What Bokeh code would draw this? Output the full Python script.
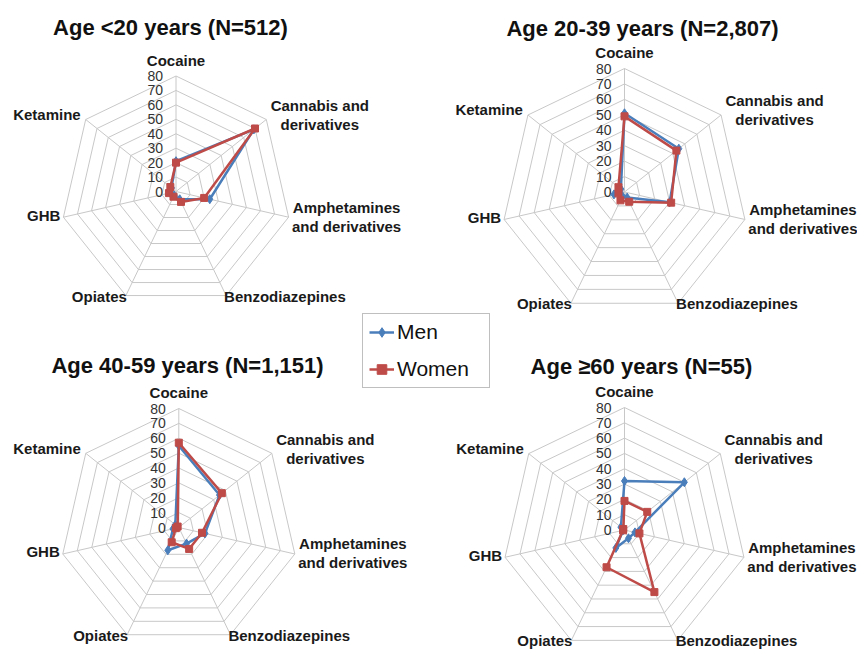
import numpy as np
from bokeh.plotting import figure
from bokeh.models import Range1d, Legend, LegendItem
from bokeh.embed import file_html
from bokeh.resources import INLINE
from bokeh.core.properties import value

# ---------------- data ----------------
drugs = ["Cocaine", "Cannabis and derivatives", "Amphetamines and derivatives",
         "Benzodiazepines", "Opiates", "GHB", "Ketamine"]
drug_label_lines = [["Cocaine"], ["Cannabis and", "derivatives"],
                    ["Amphetamines", "and derivatives"], ["Benzodiazepines"],
                    ["Opiates"], ["GHB"], ["Ketamine"]]
tick_values = [0, 10, 20, 30, 40, 50, 60, 70, 80]
titles = ["Age <20 years (N=512)", "Age 20-39 years (N=2,807)",
          "Age 40-59 years (N=1,151)", "Age \u226560 years (N=55)"]
series_names = ["Men", "Women"]

men_u20 = [21, 69, 24, 6, 3, 4, 4]
women_u20 = [20, 70, 20, 8, 4, 5, 5]
men_20_39 = [51, 45, 30, 4, 3, 7, 3]
women_20_39 = [49, 43, 31, 7, 6, 4, 5]
men_40_59 = [55, 35, 18, 12, 17, 4, 3]
women_40_59 = [57, 37, 16, 16, 11, 2, 1]
men_60 = [32, 50, 7, 6, 13, 1, 3]
women_60 = [19, 19, 10, 45, 27, 1, 1]

men_all = [men_u20, men_20_39, men_40_59, men_60]
women_all = [women_u20, women_20_39, women_40_59, women_60]

# ---------------- layout / style ----------------
W, H = 857, 650
MAXV = 80.0
panels = [dict(cx=175.5, cy=191.0, R=115.5, tx=170, ty=27),
          dict(cx=624.0, cy=191.5, R=123.5, tx=642, ty=28),
          dict(cx=178.3, cy=527.0, R=119.0, tx=187, ty=365),
          dict(cx=624.0, cy=529.5, R=122.5, tx=641, ty=366)]
FONT_NAME = "Liberation Sans"
FONT = value(FONT_NAME)
BLUE = "#4a7ebb"
RED = "#be4b48"
GRID = "#c8c8c8"

p = figure(width=W, height=H, output_backend="svg", toolbar_location=None,
           x_range=Range1d(0, W), y_range=Range1d(H, 0),
           min_border=0)
p.axis.visible = False
p.grid.visible = False
p.outline_line_color = None
p.background_fill_color = "white"

n = len(drugs)
ang = np.arange(n) * 2 * np.pi / n


def polar(cx, cy, R, vals):
    r = np.asarray(vals, dtype=float) * R / MAXV
    return cx + r * np.sin(ang), cy - r * np.cos(ang)


def closed(a):
    return list(a) + [a[0]]


# label placement rules per axis index: (kind, dx, dy, half-width for centered blocks)
label_rules = [
    ("center", 0, -16, 0),
    ("block", 3.5, -4.5, 50),
    ("block", 3.0, -0.5, 55),
    ("left", -2, 0.5, 0),
    ("right", 1, 0.5, 0),
    ("right", -3, -2, 0),
    ("right", -5, -5, 0),
]
LINE_H = 19

legend_renderers = {}

for i, pn in enumerate(panels):
    cx, cy, R = pn["cx"], pn["cy"], pn["R"]
    # rings
    rx, ry = [], []
    for t in tick_values[1:]:
        x, y = polar(cx, cy, R, [t] * n)
        rx.append(closed(x))
        ry.append(closed(y))
    p.multi_line(rx, ry, line_color=GRID, line_width=1)
    # spokes
    vx, vy = polar(cx, cy, R, [MAXV] * n)
    p.multi_line([[cx, a] for a in vx], [[cy, b] for b in vy],
                 line_color=GRID, line_width=1)
    # tick labels
    p.text(x=[cx - 13] * len(tick_values),
           y=[cy - t * R / MAXV for t in tick_values],
           text=[str(t) for t in tick_values],
           text_font=FONT, text_font_size="14px", text_color="#333333",
           text_align="right", text_baseline="middle")
    # axis category labels
    for k in range(n):
        kind, dx, dy, hw = label_rules[k]
        lines = drug_label_lines[k]
        nl = len(lines)
        ys = [vy[k] + dy + (j - (nl - 1) / 2) * LINE_H for j in range(nl)]
        if kind == "block":
            xs = [vx[k] + dx + hw] * nl
            align = "center"
        else:
            xs = [vx[k] + dx] * nl
            align = kind
        p.text(x=xs, y=ys, text=lines, text_font=FONT, text_font_size="15px",
               text_font_style="bold", text_color="#1a1a1a",
               text_align=align, text_baseline="middle")
    # title
    p.text(x=[pn["tx"]], y=[pn["ty"]], text=[titles[i]], text_font=FONT,
           text_font_size="22px", text_font_style="bold", text_color="#111111",
           text_align="center", text_baseline="middle")
    # series
    for name, vals, col, marker, msize in [("Men", men_all[i], BLUE, "diamond", 9),
                                           ("Women", women_all[i], RED, "square", 7)]:
        x, y = polar(cx, cy, R, vals)
        lr = p.line(closed(x), closed(y), line_color=col, line_width=2.5)
        sr = p.scatter(x, y, marker=marker, size=msize, fill_color=col,
                       line_color=col)
        if i == 0:
            legend_renderers[name] = [lr, sr]

legend = Legend(items=[LegendItem(label=nm, renderers=legend_renderers[nm])
                       for nm in series_names],
                location=(362, 262), margin=0, padding=6, spacing=13,
                glyph_width=25, glyph_height=24, label_height=24,
                label_width=86, label_standoff=3,
                label_text_font=FONT_NAME, label_text_font_size="21px",
                label_text_color="#111111",
                border_line_color="#808080", border_line_width=1,
                background_fill_color="white", background_fill_alpha=1.0)
p.add_layout(legend)

open("out.html", "w").write(file_html(p, INLINE))
